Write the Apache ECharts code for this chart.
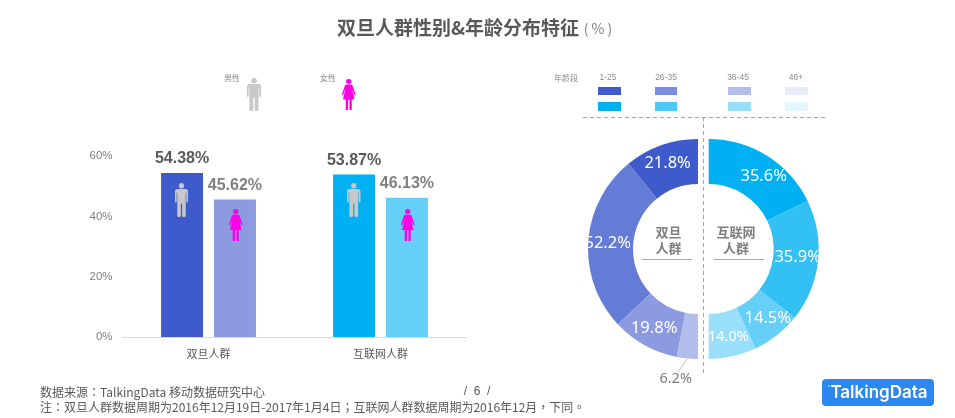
<!DOCTYPE html>
<html>
<head>
<meta charset="utf-8">
<style>
html, body { margin: 0; padding: 0; background: #fff; }
#chart { width: 955px; height: 418px; }
</style>
<script src="https://cdn.jsdelivr.net/npm/echarts@6/dist/echarts.min.js"></script>
</head>
<body>
<div id="chart"></div>
<script>
var groups = ["双旦人群", "互联网人群"];
var maleShare = [54.38, 53.87];
var femaleShare = [45.62, 46.13];
var yTicks = [0, 20, 40, 60];

var ageGroups = ["1-25", "26-35", "36-45", "46+"];
var ageShareHoliday = [21.8, 52.2, 19.8, 6.2];
var ageShareInternet = [35.6, 35.9, 14.5, 14.0];

var colorsHoliday = ["#3f5bcb", "#657cd6", "#8c9be0", "#b2bdec"];
var colorsInternet = ["#00b0f2", "#33c0f5", "#66cff8", "#99dffb"];
var legendTop = ["#3f5bcb", "#788de0", "#b2bdec", "#e8ebf8"];
var legendBottom = ["#00b0f2", "#4dc8fa", "#99dffb", "#e3f5fd"];

var CJK = '"Noto Sans CJK SC", "Liberation Sans", sans-serif';
var CJK_NOTE = '"Noto Sans CJK TC", "Liberation Sans", sans-serif';
var LATIN = '"Liberation Sans", "Noto Sans CJK SC", sans-serif';
var MAN = "M20 0a8 8 0 1 1 0 16a8 8 0 1 1 0-16zM7 18H33C37 18 40 21 40 25V55C40 58 35 58 35 55V29H33V96C33 101 22 101 22 96V60H18V96C18 101 7 101 7 96V29H5V55C5 58 0 58 0 55V25C0 21 3 18 7 18Z";
var WOMAN = "M20 0a8 8 0 1 1 0 16a8 8 0 1 1 0-16zM13 18H27C30 18 31 20 32 23L40 48C41 52 37 53 36 49L30 32L37 66H29V100H22V66H18V100H11V66H3L10 32L4 49C3 53 -1 52 0 48L8 23C9 20 10 18 13 18Z";

echarts.graphic.registerShape("manIcon", echarts.graphic.extendPath(MAN, {}));
echarts.graphic.registerShape("womanIcon", echarts.graphic.extendPath(WOMAN, {}));

function textEl(x, y, text, size, color, weight, font, align) {
    return {
        type: "text", x: x, y: y, z: 100, silent: true,
        style: { text: text, fontSize: size, fill: color, fontWeight: weight || "normal", fontFamily: font || CJK, align: align || "center", verticalAlign: "middle" }
    };
}
function iconEl(kind, x, y, w, h, color) {
    return { type: kind, z: 100, silent: true, x: x, y: y, scaleX: w / 40, scaleY: h / 100, style: { fill: color } };
}
function lineEl(x1, y1, x2, y2, color, dash) {
    return { type: "line", z: 100, silent: true, shape: { x1: x1, y1: y1, x2: x2, y2: y2 }, style: { stroke: color, lineWidth: 1, lineDash: dash || null } };
}

function buildGraphic() {
    var els = [];
    var swatchX = [598, 655, 728, 785];
    var swatchW = [23, 22, 23, 23];
    var labelX = [608, 666, 738, 796];
    els.push(textEl(337, 28, "双旦人群性别&年龄分布特征", 19, "#595959", "bold", CJK, "left"));
    els.push(textEl(598, 29, "( % )", 14, "#7f7f7f", "normal", CJK));
    // 性别图例
    els.push(textEl(232, 78, "男性", 8, "#8c8c8c"));
    els.push(textEl(328, 78, "女性", 8, "#8c8c8c"));
    els.push(iconEl("manIcon", 247, 78, 14, 33, "#c8c8c8"));
    els.push(iconEl("womanIcon", 342, 79, 13.5, 31, "#ff00e6"));
    // 柱子上的小人
    els.push(iconEl("manIcon", 175, 183, 13, 34, "#c8c8c8"));
    els.push(iconEl("womanIcon", 229, 209, 13.5, 32, "#ff00e6"));
    els.push(iconEl("manIcon", 347, 183, 13.5, 34, "#c8c8c8"));
    els.push(iconEl("womanIcon", 401, 209, 13.5, 32, "#ff00e6"));
    // 年龄段图例
    els.push(textEl(566, 78, "年龄段", 8, "#8c8c8c"));
    for (var i = 0; i < ageGroups.length; i++) {
        els.push(textEl(labelX[i], 78, ageGroups[i], 8.5, "#8c8c8c", "normal", LATIN));
        els.push({ type: "rect", silent: true, shape: { x: swatchX[i], y: 87, width: swatchW[i], height: 8 }, style: { fill: legendTop[i] } });
        els.push({ type: "rect", silent: true, shape: { x: swatchX[i], y: 102, width: swatchW[i], height: 9 }, style: { fill: legendBottom[i] } });
    }
    els.push(lineEl(583, 117.5, 825, 117.5, "#a6a6a6", [4, 3]));
    els.push(lineEl(703.5, 117, 703.5, 373, "#a6a6a6", [4, 3]));
    // 6.2%的引导线
    els.push(lineEl(687, 359, 678, 372, "#bfbfbf"));
    // 环形中间文字
    els.push(textEl(668.5, 232, "双旦", 13, "#7f7f7f", "bold"));
    els.push(textEl(668.5, 248, "人群", 13, "#7f7f7f", "bold"));
    els.push(lineEl(642, 259.5, 692, 259.5, "#a6a6a6"));
    els.push(textEl(736, 232, "互联网", 13, "#7f7f7f", "bold"));
    els.push(textEl(736, 248, "人群", 13, "#7f7f7f", "bold"));
    els.push(lineEl(714, 259.5, 764, 259.5, "#a6a6a6"));
    // 底部
    els.push(textEl(40, 392, "数据来源：TalkingData 移动数据研究中心", 12, "#595959", "normal", CJK_NOTE, "left"));
    els.push(textEl(477, 392, "/  6  /", 12, "#595959", "normal", LATIN));
    els.push(textEl(40, 407, "注：双旦人群数据周期为2016年12月19日-2017年1月4日；互联网人群数据周期为2016年12月，下同。", 12, "#595959", "normal", CJK_NOTE, "left"));
    els.push({ type: "rect", silent: true, shape: { x: 822, y: 379, width: 112, height: 27, r: 4 }, style: { fill: "#2d87f0" } });
    els.push(textEl(879, 393, "TalkingData", 17, "#ffffff", 600, '"Inter", sans-serif'));
    els.push({ type: "rect", z: 101, silent: true, shape: { x: 828, y: 385, width: 2, height: 2 }, style: { fill: "#3fe0c0" } });
    return els;
}

function barData(values, colors) {
    return values.map(function (v, i) {
        return { value: v, itemStyle: { color: colors[i] } };
    });
}
function pieData(values, colors) {
    return values.map(function (v, i) {
        return { value: v, name: ageGroups[i], itemStyle: { color: colors[i] } };
    });
}
function pctLabel(params) {
    return params.value.toFixed(1) + "%";
}

function loadChart() {
    var chart = echarts.init(document.getElementById("chart"));
    var barLabel = function (color) {
        return { show: true, position: "top", distance: 6, formatter: "{c}%", color: color, fontSize: 16, fontWeight: "bold", fontFamily: LATIN };
    };
    var pieLabel = { show: true, position: "inside", formatter: pctLabel, color: "#fff", fontSize: 16.5, fontFamily: '"Noto Sans", sans-serif' };
    var holiday = pieData(ageShareHoliday, colorsHoliday);
    holiday[3].label = { position: "outside", color: "#7f7f7f", fontSize: 14.5, fontFamily: '"Noto Sans", sans-serif' };
    holiday[3].labelLine = { show: false, length: 14, length2: 0 };
    var internet = pieData(ageShareInternet, colorsInternet);
    internet[0].label = { offset: [7, 4] };
    internet[1].label = { offset: [-1, -2] };
    internet[2].label = { offset: [3, -2] };
    internet[3].label = { fontSize: 14.5 };

    var option = {
        animation: false,
        backgroundColor: "#fff",
        grid: { left: 122.5, top: 156, width: 344, height: 181 },
        xAxis: {
            type: "category",
            data: groups,
            axisLine: { lineStyle: { color: "#d9d9d9" } },
            axisTick: { show: false },
            axisLabel: { color: "#595959", fontSize: 11, fontFamily: CJK, margin: 11 }
        },
        yAxis: {
            type: "value",
            min: yTicks[0],
            max: yTicks[yTicks.length - 1],
            interval: 20,
            axisLine: { show: false },
            axisTick: { show: false },
            splitLine: { show: false },
            axisLabel: { color: "#7f7f7f", fontSize: 11.5, fontFamily: LATIN, formatter: "{value}%", margin: 10 }
        },
        series: [
            { name: "男性", type: "bar", barWidth: 42, barGap: "26%", data: barData(maleShare, ["#3f5bcb", "#00b0f2"]), label: barLabel("#595959"), z: 2 },
            { name: "女性", type: "bar", barWidth: 42, barGap: "26%", data: barData(femaleShare, ["#8c9be0", "#66cff8"]), label: barLabel("#7f7f7f"), z: 2 },
            {
                name: "双旦人群", type: "pie", center: [698, 249], radius: [65, 110],
                startAngle: 90, endAngle: 270, clockwise: false,
                data: holiday, label: pieLabel, labelLine: { show: false },
                labelLayout: function (params) {
                    if (params.dataIndex === 3) {
                        return { dx: 11, dy: 6 };
                    }
                },
                emphasis: { disabled: true }
            },
            {
                name: "互联网人群", type: "pie", center: [708.7, 249], radius: [65, 110],
                startAngle: 90, endAngle: -90, clockwise: true,
                data: internet, label: pieLabel, labelLine: { show: false },
                emphasis: { disabled: true }
            }
        ],
        graphic: { elements: buildGraphic() }
    };
    chart.setOption(option);
}
loadChart();
</script>
</body>
</html>
